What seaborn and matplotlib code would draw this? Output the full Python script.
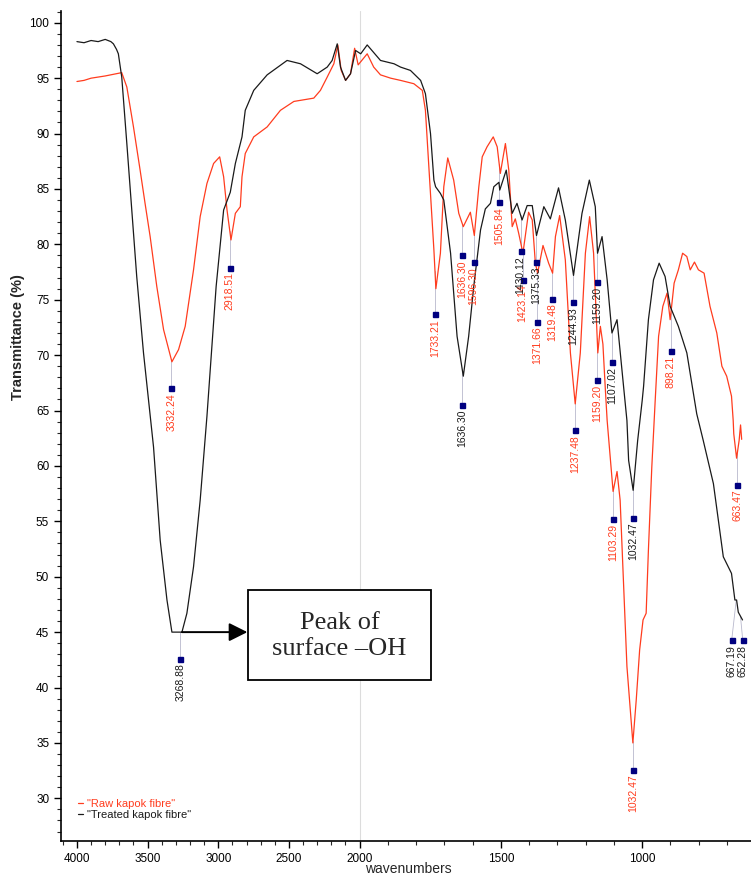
import numpy as np
import pandas as pd
import matplotlib
matplotlib.use("Agg")
import matplotlib.pyplot as plt
import matplotlib.ticker as mticker
from matplotlib.patches import Rectangle
import seaborn as sns

# ── Data ──────────────────────────────────────────────────────────────────────
raw_wn = [4000, 3950, 3900, 3850, 3800, 3760, 3718, 3683, 3647, 3600, 3553, 3518,
          3482, 3435, 3387, 3328, 3281, 3234, 3175, 3128, 3080, 3033, 2990, 2962,
          2938, 2910, 2879, 2844, 2832, 2809, 2749, 2654, 2560, 2465, 2324, 2277,
          2229, 2182, 2154, 2130, 2099, 2064, 2035, 2010, 1973, 1950, 1926, 1890,
          1855, 1808, 1778, 1767, 1749, 1737, 1730, 1714, 1702, 1688, 1667, 1649,
          1633, 1608, 1594, 1578, 1566, 1549, 1527, 1513, 1502, 1484, 1472, 1460,
          1449, 1437, 1422, 1402, 1389, 1378, 1370, 1351, 1331, 1317, 1307, 1292,
          1272, 1254, 1237, 1219, 1201, 1186, 1172, 1157, 1148, 1139, 1131, 1124,
          1115, 1103, 1089, 1078, 1066, 1054, 1045, 1033, 1021, 1009, 997, 986,
          978, 966, 954, 942, 927, 912, 901, 887, 872, 857, 842, 830, 815, 801,
          781, 760, 736, 718, 701, 684, 678, 676, 666, 657, 652, 648]
raw_t = [94.7, 94.8, 95.0, 95.1, 95.2, 95.3, 95.4, 95.5, 94.2, 90.6, 86.7, 83.7,
         80.7, 76.2, 72.3, 69.4, 70.5, 72.6, 77.7, 82.5, 85.5, 87.3, 87.9, 86.1,
         83.1, 80.4, 82.8, 83.4, 86.1, 88.2, 89.7, 90.6, 92.1, 92.9, 93.2, 93.9,
         95.1, 96.3, 98.0, 95.7, 94.8, 95.4, 97.7, 96.2, 97.2, 96.0, 95.3, 95.0,
         94.8, 94.5, 93.9, 92.1, 84.5, 79.5, 76.0, 79.2, 85.2, 87.8, 85.8, 82.8,
         81.6, 82.9, 80.8, 85.2, 87.9, 88.8, 89.7, 88.8, 86.4, 89.1, 86.7, 81.6,
         82.3, 81.0, 79.2, 82.9, 82.2, 78.3, 77.4, 79.9, 78.3, 77.4, 80.7, 82.6,
         78.6, 70.2, 65.6, 70.2, 79.2, 82.5, 79.2, 70.2, 72.6, 71.0, 67.2, 64.1,
         61.4, 57.7, 59.5, 56.9, 49.4, 41.9, 38.9, 35.0, 38.9, 43.4, 46.1, 46.7,
         52.4, 59.9, 65.9, 71.7, 74.4, 75.6, 73.2, 76.5, 77.7, 79.2, 78.9, 77.7,
         78.4, 77.7, 77.4, 74.4, 72.0, 69.0, 68.1, 66.3, 64.1, 62.9, 60.7, 62.3,
         63.7, 62.4]

treated_wn = [4000, 3950, 3900, 3850, 3800, 3760, 3742, 3720, 3707, 3683, 3647, 3612,
              3577, 3529, 3458, 3411, 3363, 3328, 3257, 3222, 3175, 3128, 3080, 3015,
              2962, 2915, 2879, 2832, 2809, 2749, 2654, 2513, 2418, 2300, 2229, 2194,
              2158, 2135, 2099, 2064, 2028, 1996, 1973, 1926, 1878, 1855, 1820, 1784,
              1767, 1749, 1737, 1731, 1714, 1702, 1678, 1655, 1633, 1614, 1596, 1572,
              1555, 1537, 1525, 1507, 1504, 1481, 1460, 1443, 1425, 1407, 1389, 1374,
              1348, 1325, 1296, 1272, 1243, 1213, 1187, 1166, 1158, 1142, 1124, 1107,
              1089, 1066, 1054, 1048, 1032, 1016, 1000, 995, 978, 960, 940, 919,
              901, 872, 842, 807, 784, 748, 713, 684, 672, 666, 660, 645]
treated_t = [98.3, 98.2, 98.4, 98.3, 98.5, 98.3, 98.1, 97.6, 97.2, 95.1, 89.1, 83.1,
             77.1, 70.2, 61.7, 53.3, 47.9, 45.0, 45.0, 46.7, 50.9, 56.9, 64.5, 76.2,
             83.1, 84.7, 87.3, 89.7, 92.1, 93.9, 95.3, 96.6, 96.3, 95.4, 96.0, 96.6,
             98.1, 96.0, 94.8, 95.4, 97.5, 97.2, 98.0, 96.6, 96.3, 96.0, 95.7, 94.8,
             93.6, 90.0, 85.8, 85.2, 84.6, 84.0, 79.2, 71.7, 68.1, 71.7, 76.2, 81.3,
             83.2, 83.7, 85.2, 85.6, 84.9, 86.7, 82.8, 83.7, 82.2, 83.5, 83.5, 80.8,
             83.4, 82.3, 85.1, 82.2, 77.2, 82.8, 85.8, 83.4, 79.2, 80.7, 76.8, 72.0,
             73.2, 67.2, 64.1, 60.5, 57.8, 62.3, 65.9, 67.2, 73.2, 76.8, 78.3, 77.1,
             74.4, 72.6, 70.2, 64.7, 62.3, 58.4, 51.8, 50.3, 47.9, 47.9, 46.8, 46.1]

# peak labels: wavenumber and transmittance of the label marker
raw_peaks = [3332.24, 2918.51, 1733.21, 1636.30, 1596.30, 1505.84, 1423.14, 1371.66,
             1319.48, 1237.48, 1159.20, 1103.29, 1032.47, 898.21, 663.47]
raw_marks = [67.0, 77.9, 73.7, 79.0, 78.4, 83.8, 76.8, 73.0,
             75.1, 63.2, 67.8, 55.2, 32.6, 70.4, 58.3]
treated_peaks = [3268.88, 1636.30, 1430.12, 1375.33, 1244.93, 1159.20, 1107.02,
                 1032.47, 667.19, 652.28]
treated_marks = [42.6, 65.5, 79.4, 78.4, 74.8, 76.6, 69.4, 55.3, 44.3, 44.3]

RED = "#ff3c1e"
BLACK = "#1a1a1a"
NAVY = "#000080"

sns.set_theme(style="ticks")
plt.rcParams["font.family"] = ["Liberation Sans", "DejaVu Sans"]


def fwd(w):
    w = np.asarray(w, dtype=float)
    return np.where(w > 2000, 2000 + (w - 2000) / 2, w)


def inv(u):
    u = np.asarray(u, dtype=float)
    return np.where(u > 2000, 2000 + (u - 2000) * 2, u)


fig = plt.figure(figsize=(7.51, 8.76), dpi=100)
ax = fig.add_axes([0.0812, 0.040, 0.9188, 0.9474])

df_raw = pd.DataFrame({"wn": raw_wn, "t": raw_t})
df_trt = pd.DataFrame({"wn": treated_wn, "t": treated_t})

ax.axvline(2000, color="#dcdcdc", lw=0.8, zorder=0)
sns.lineplot(data=df_raw, x="wn", y="t", ax=ax, color=RED, lw=0.9,
             estimator=None, sort=False, label='"Raw kapok fibre"', zorder=3)
sns.lineplot(data=df_trt, x="wn", y="t", ax=ax, color=BLACK, lw=0.9,
             estimator=None, sort=False, label='"Treated kapok fibre"', zorder=3)

ax.set_xscale("function", functions=(fwd, inv))
ax.set_xlim(4113, 615)
ax.set_ylim(26.15, 101.06)


# ── Peak labels ───────────────────────────────────────────────────────────────
def curve_at(wn_list, t_list, w):
    return np.interp(w, wn_list[::-1], t_list[::-1])


def label_peaks(peaks, marks, wn_list, t_list, color, shift=None):
    shift = shift or {}
    for w, m in zip(peaks, marks):
        top = curve_at(wn_list, t_list, w)
        xm = w + shift.get(w, 0)
        ax.plot([w, xm], [top, m], color="#b8b8cc", lw=0.6, zorder=2)
        ax.plot(xm, m, marker="s", ms=3.6, color=NAVY, zorder=4)
        ax.annotate(f"{w:.2f}", xy=(xm, m), xytext=(0, -3.5),
                    textcoords="offset points", rotation=90,
                    ha="center", va="top", fontsize=7.5, color=color, zorder=4)


label_peaks(raw_peaks, raw_marks, raw_wn, raw_t, RED)
label_peaks(treated_peaks, treated_marks, treated_wn, treated_t, BLACK,
            shift={667.19: 16, 652.28: -8})

# ── Annotation box ────────────────────────────────────────────────────────────
ax.add_patch(Rectangle((0.271, 0.194), 0.265, 0.108, transform=ax.transAxes,
                       facecolor="white", edgecolor="black", lw=1.3, zorder=5))
ax.text(0.4035, 0.247, "Peak of\nsurface \u2013OH", transform=ax.transAxes,
        ha="center", va="center", fontsize=19, linespacing=1.2,
        family=["Liberation Serif", "DejaVu Serif"], zorder=6)
ax.annotate("", xy=(2794, 45.0), xytext=(3257, 45.0),
            arrowprops=dict(arrowstyle="-|>,head_length=0.8,head_width=0.4",
                            mutation_scale=14, lw=1.4, color="black",
                            shrinkA=0, shrinkB=0), zorder=6)

# ── Axes styling ──────────────────────────────────────────────────────────────
ax.xaxis.set_major_locator(mticker.FixedLocator([4000, 3500, 3000, 2500, 2000, 1500, 1000]))
ax.xaxis.set_minor_locator(mticker.MultipleLocator(100))
ax.yaxis.set_major_locator(mticker.MultipleLocator(5))
ax.yaxis.set_minor_locator(mticker.MultipleLocator(1))
ax.tick_params(axis="both", which="major", length=5, width=1.0, labelsize=8.5,
               direction="out", colors="black")
ax.tick_params(axis="both", which="minor", length=3, width=0.8, direction="out")
for side in ("top", "right"):
    ax.spines[side].set_visible(False)
for side in ("left", "bottom"):
    ax.spines[side].set_linewidth(1.2)
    ax.spines[side].set_color("black")

ax.set_ylabel("Transmittance (%)", fontweight="bold", fontsize=10.5)
ax.yaxis.set_label_coords(-0.052, 0.607)
ax.set_xlabel("wavenumbers", fontsize=10)
ax.xaxis.set_label_coords(0.503, -0.0255)
ax.xaxis.label.set_va("top")

leg = ax.legend(loc="lower left", bbox_to_anchor=(0.018, 0.02), frameon=False,
                fontsize=8, handlelength=0.5, handletextpad=0.3,
                labelspacing=0.1, borderaxespad=0, labelcolor="linecolor")

fig.savefig("out.png", dpi=100)
